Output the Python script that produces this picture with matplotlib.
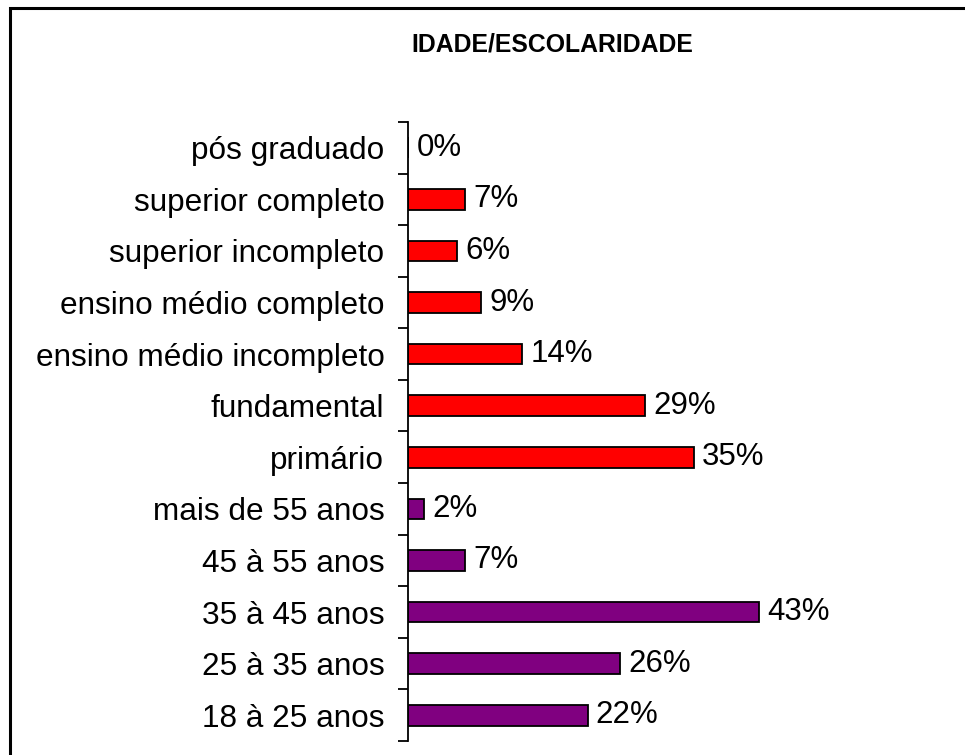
import matplotlib
matplotlib.use("Agg")
import matplotlib.pyplot as plt
from matplotlib.patches import Rectangle
import numpy as np

categories = ["pós graduado", "superior completo", "superior incompleto",
              "ensino médio completo", "ensino médio incompleto", "fundamental",
              "primário", "mais de 55 anos", "45 à 55 anos", "35 à 45 anos",
              "25 à 35 anos", "18 à 25 anos"]
values = [0, 7, 6, 9, 14, 29, 35, 2, 7, 43, 26, 22]
groups = ["esc"] * 7 + ["idade"] * 5
group_colors = {"esc": "#FF0000", "idade": "#800080"}
title = "IDADE/ESCOLARIDADE"

plt.rcParams['font.family'] = ['Liberation Sans', 'DejaVu Sans']

W, H = 965, 755
fig = plt.figure(figsize=(W / 100, H / 100), dpi=100)

# frame around the chart area
fig.patches.append(Rectangle((10 / W, -0.05), 1.2, (755 - 8) / H + 0.05,
                             transform=fig.transFigure, fill=False,
                             edgecolor="black", linewidth=2.2))

left, right = 408 / W, 898 / W
bottom, top = 1 - 741 / H, 1 - 122 / H
ax = fig.add_axes([left, bottom, right - left, top - bottom])

n = len(categories)
ypos = np.arange(n)[::-1]
colors = [group_colors[g] for g in groups]
ax.barh(ypos, values, height=0.4, color=colors, edgecolor="black", linewidth=1.3)

ax.set_xlim(0, (898 - 408) / 8.16)
ax.set_ylim(-0.5, n - 0.5)

ax.set_yticks(ypos)
ax.set_yticklabels(categories, fontsize=22.7)
ax.tick_params(axis="y", which="major", length=0, pad=17)
ax.set_yticks(np.arange(-0.5, n, 1.0), minor=True)
ax.tick_params(axis="y", which="minor", length=7, width=1.3, direction="out")
ax.set_xticks([])

for s in ["top", "right", "bottom"]:
    ax.spines[s].set_visible(False)
ax.spines["left"].set_linewidth(1.3)

for y, v in zip(ypos, values):
    ax.annotate(f"{v}%", (v, y), xytext=(6, 0), textcoords="offset points",
                va="center", ha="left", fontsize=22.5)

fig.text(552 / W, 1 - 45 / H, title, ha="center", va="center",
         fontsize=17.8, fontweight="bold")

fig.savefig("out.png", dpi=100, facecolor="white")
